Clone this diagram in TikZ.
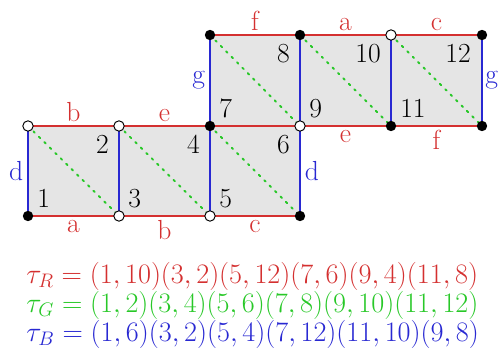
\documentclass[tikz,border=0pt]{standalone}
\begin{document}
\definecolor{cR}{RGB}{212,48,48}
\definecolor{cG}{RGB}{40,200,40}
\definecolor{cB}{RGB}{40,40,210}
\begin{tikzpicture}[x=0.022cm,y=-0.022cm,
  sq/.style={fill=gray!20},
  diag/.style={cG,line width=1.2pt,dash pattern=on 1.2pt off 3.6pt,line cap=round},
  redge/.style={cR,line width=1.1pt},
  bedge/.style={cB,line width=1.1pt},
  vfill/.style={circle,fill=black,inner sep=0pt,minimum size=6.5pt},
  vopen/.style={circle,draw=black,fill=white,line width=0.6pt,inner sep=0pt,minimum size=6.5pt},
  num/.style={font=\LARGE,inner sep=0pt},
  elab/.style={font=\LARGE,inner sep=0pt},
  eq/.style={font=\LARGE,inner sep=0pt,anchor=base west}]
\useasboundingbox (0,0) rectangle (500,349);
% vertices
\coordinate (b0) at (28,216); \coordinate (b1) at (119,216);
\coordinate (b2) at (210,216); \coordinate (b3) at (300,216);
\coordinate (m0) at (28,126); \coordinate (m1) at (119,126);
\coordinate (m2) at (210,126); \coordinate (m3) at (300,126);
\coordinate (m4) at (391,126); \coordinate (m5) at (482,126);
\coordinate (t2) at (210,35); \coordinate (t3) at (300,35);
\coordinate (t4) at (391,35); \coordinate (t5) at (482,35);
% faces
\fill[sq] (b0) rectangle (m3);
\fill[sq] (m2) rectangle (t5);
% diagonals
\draw[diag] (m0) -- (b1);
\draw[diag] (m1) -- (b2);
\draw[diag] (m2) -- (b3);
\draw[diag] (t2) -- (m3);
\draw[diag] (t3) -- (m4);
\draw[diag] (t4) -- (m5);
% red edges
\draw[redge] (b0) -- node[elab,below=2pt] {a} (b1);
\draw[redge] (b1) -- node[elab,below=2pt] {b} (b2);
\draw[redge] (b2) -- node[elab,below=2pt] {c} (b3);
\draw[redge] (m0) -- node[elab,above=2pt] {b} (m1);
\draw[redge] (m1) -- node[elab,above=2pt] {e} (m2);
\draw[redge] (m2) -- (m3);
\draw[redge] (m3) -- node[elab,below=2pt] {e} (m4);
\draw[redge] (m4) -- node[elab,below=2pt] {f} (m5);
\draw[redge] (t2) -- node[elab,above=2pt] {f} (t3);
\draw[redge] (t3) -- node[elab,above=2pt] {a} (t4);
\draw[redge] (t4) -- node[elab,above=2pt] {c} (t5);
% blue edges
\draw[bedge] (b0) -- node[elab,left=2.5pt] {d} (m0);
\draw[bedge] (b1) -- (m1);
\draw[bedge] (b2) -- (m2);
\draw[bedge] (b3) -- node[elab,right=2.5pt] {d} (m3);
\draw[bedge] (m2) -- node[elab,left=2.5pt] {g} (t2);
\draw[bedge] (m3) -- (t3);
\draw[bedge] (m4) -- (t4);
\draw[bedge] (m5) -- node[elab,right=1.5pt] {g} (t5);
% vertex markers
\node[vfill] (vb0) at (b0) {}; \node[vopen] (vb1) at (b1) {};
\node[vopen] (vb2) at (b2) {}; \node[vfill] (vb3) at (b3) {};
\node[vopen] (vm0) at (m0) {}; \node[vopen] (vm1) at (m1) {};
\node[vfill] (vm2) at (m2) {}; \node[vopen] (vm3) at (m3) {};
\node[vfill] (vm4) at (m4) {}; \node[vfill] (vm5) at (m5) {};
\node[vfill] (vt2) at (t2) {}; \node[vfill] (vt3) at (t3) {};
\node[vopen] (vt4) at (t4) {}; \node[vfill] (vt5) at (t5) {};
% face numbers
\node[num,anchor=base west] (n1) at (37,207) {1};
\node[num,anchor=north east] (n2) at (109,135) {2};
\node[num,anchor=base west] (n3) at (128,207) {3};
\node[num,anchor=north east] (n4) at (200,135) {4};
\node[num,anchor=base west] (n5) at (219,207) {5};
\node[num,anchor=north east] (n6) at (290,135) {6};
\node[num,anchor=base west] (n7) at (219,117) {7};
\node[num,anchor=north east] (n8) at (290,44) {8};
\node[num,anchor=base west] (n9) at (309,117) {9};
\node[num,anchor=north east] (n10) at (381,44) {10};
\node[num,anchor=base west] (n11) at (400,117) {11};
\node[num,anchor=north east] (n12) at (471,44) {12};
% permutations
\node[eq,cR] (tR) at (26,283) {\scalebox{1.022}{$\tau_R = (1,10)(3,2)(5,12)(7,6)(9,4)(11,8)$}};
\node[eq,cG] (tG) at (26,312) {\scalebox{1.022}{$\tau_G = (1,2)(3,4)(5,6)(7,8)(9,10)(11,12)$}};
\node[eq,cB] (tB) at (26,341) {\scalebox{1.022}{$\tau_B = (1,6)(3,2)(5,4)(7,12)(11,10)(9,8)$}};
\end{tikzpicture}
\end{document}
